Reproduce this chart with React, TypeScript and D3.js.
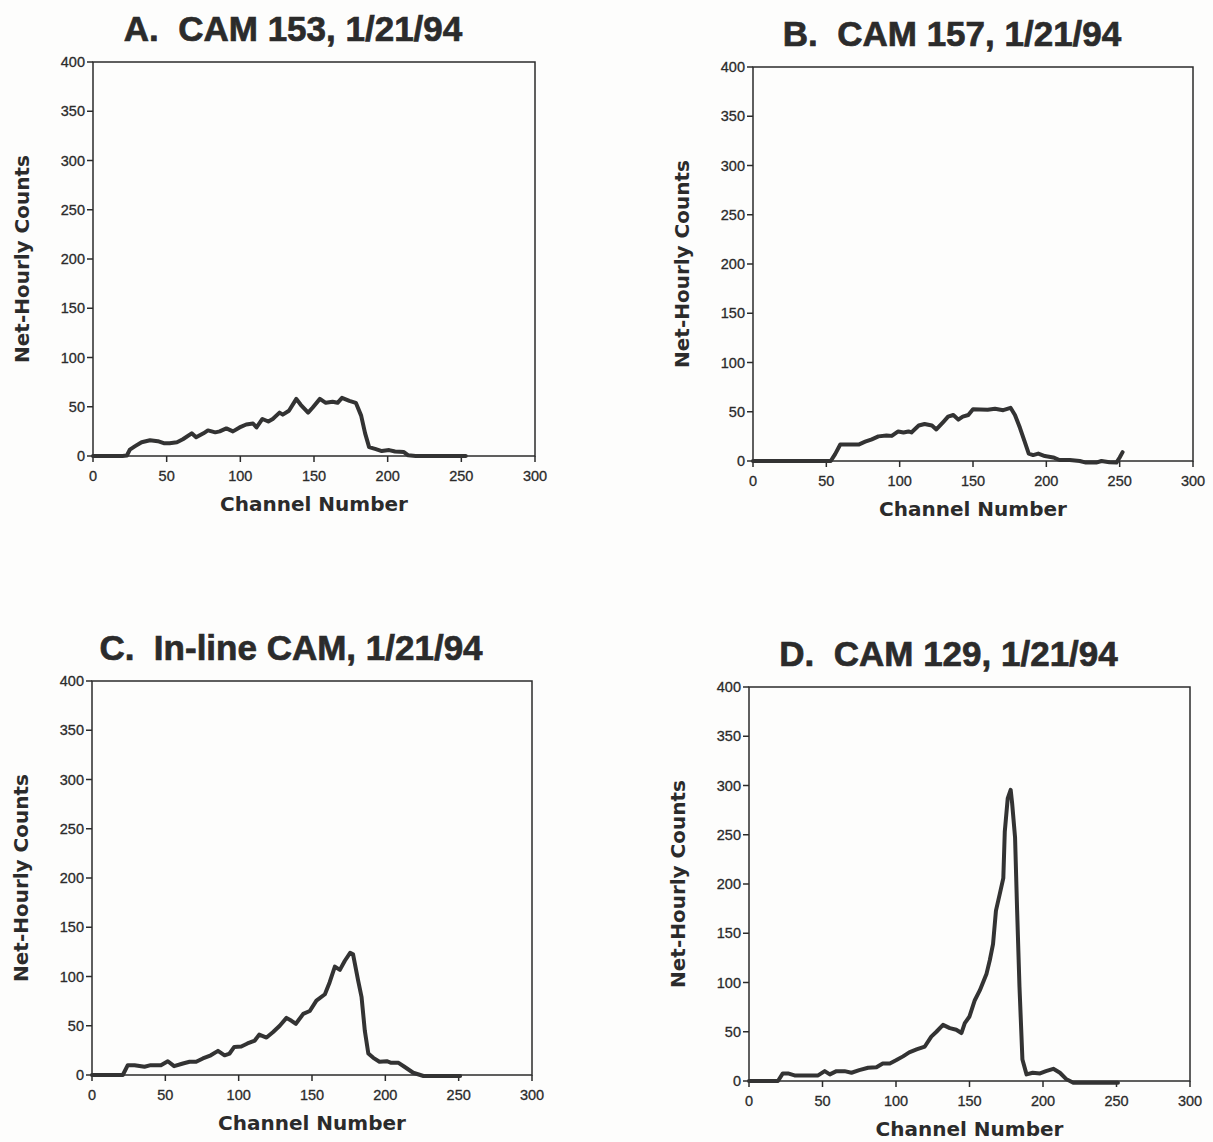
import React from 'react';
import * as d3 from 'd3';

// ---------- data ----------
const xTickValues = [0, 50, 100, 150, 200, 250, 300];
const yTickValues = [0, 50, 100, 150, 200, 250, 300, 350, 400];

const titleA = 'A.  CAM 153, 1/21/94';
const titleB = 'B.  CAM 157, 1/21/94';
const titleC = 'C.  In-line CAM, 1/21/94';
const titleD = 'D.  CAM 129, 1/21/94';

const xLabel = 'Channel Number';
const yLabel = 'Net-Hourly Counts';

const channelsA = [0, 10, 20, 23, 25, 28.6, 33, 38.7, 44, 48, 52, 57, 61, 67, 70, 75, 78, 83, 86, 90.5, 95, 99.5, 104, 108.6, 111, 115, 119, 122, 126.6, 128.8, 133, 138, 141, 146, 149, 154, 158, 162.6, 166, 169, 174, 178.4, 182, 184.7, 187.4, 192, 196, 201, 205, 211, 214, 219, 230, 240, 253];
const valuesA = [0, 0, 0, 0.5, 6.5, 10, 14, 16, 15, 13, 13, 14, 17, 23, 19, 23, 26, 24, 25, 28, 25, 29, 32, 33, 29, 37.6, 35, 37.6, 44, 42, 46, 58, 52, 44, 49, 58, 54, 55, 54, 59, 56, 54, 41, 23, 9, 7, 5, 6, 4.6, 4, 0.7, 0, 0, 0, 0];

const channelsB = [0, 20, 40, 53, 56, 59.5, 64, 72, 76.5, 81, 85.5, 91, 94.6, 99, 102.6, 106, 108, 113, 117, 122, 125, 130, 133, 136.6, 140, 143, 146.8, 150, 154.8, 160, 165, 170.6, 175.6, 178.6, 182, 185, 188, 191, 194.5, 199, 204.7, 209, 216, 222.8, 227, 234, 237.6, 243, 247.8, 250, 252];
const valuesB = [0, 0, 0, 0, 7, 16.7, 16.7, 16.7, 19.6, 22, 25, 26, 25.5, 30, 29, 30, 29, 36, 37.6, 36, 32, 40, 45, 46.7, 42, 45, 46.7, 52.6, 52.3, 52, 53, 51.6, 54, 46.7, 33.7, 20.6, 7.5, 6, 7.5, 5, 3.6, 1, 1, 0, -1.6, -1.6, 0, -1.3, -1.6, 3.6, 9];

const channelsC = [0, 10, 21, 24.4, 29, 35.8, 40, 47, 51.7, 56, 62, 66.5, 71, 75.6, 81, 85.9, 90.4, 93.8, 97, 101.8, 106, 111, 114, 119, 123.5, 128, 132.6, 136, 139, 144, 148.5, 153, 158.8, 162, 165.6, 169, 172.4, 176, 178, 181.5, 183.8, 186, 188.4, 191.8, 196, 201, 204, 209, 213, 219, 226, 240, 251];
const valuesC = [0, 0, 0, 10, 10, 8.4, 10, 10, 14, 9, 11.7, 13.4, 13.4, 16.8, 20, 24.5, 20, 21.8, 28.5, 29, 32, 35, 41, 38, 43.6, 50, 58, 55, 52, 62, 65, 75.5, 82, 94, 110, 106.7, 116, 124, 122.5, 95.6, 79, 45, 21.8, 17.4, 13.4, 14, 12.4, 12.4, 8.4, 2.3, -1, -1, -1];

const channelsD = [0, 10, 19.7, 23, 26.5, 31, 39, 47, 51.5, 55, 59.5, 65, 69.7, 75, 81, 86.7, 91, 95.8, 100, 104.8, 109, 114, 119.6, 124, 127.5, 132, 136.6, 141, 144.5, 146.8, 150, 153.6, 157, 161.6, 163.8, 166, 168, 170.6, 173, 174, 176, 178, 179, 181, 182.4, 184, 186, 188.8, 193, 198, 202, 207, 211.5, 216, 220.6, 235, 251];
const valuesD = [0, 0, 0, 7.7, 7.7, 5.7, 5.7, 5.7, 10, 6.7, 10, 10, 8.4, 11, 13.4, 14, 17.8, 17.8, 21, 25, 29, 32, 35, 45, 50, 57, 53.7, 52, 48.7, 58.8, 65.5, 82, 92, 109, 122.6, 139, 173, 190, 206, 253, 287, 295.6, 282, 247, 173, 95.7, 21.8, 6.7, 8.4, 7.7, 10, 12.4, 8.4, 1.7, -1.7, -1.7, -1.7];

// ---------- layout ----------
const layout = [
  { left: 93, right: 535, top: 62, bottom: 456 },
  { left: 753, right: 1193, top: 67, bottom: 461 },
  { left: 92, right: 532, top: 681, bottom: 1075 },
  { left: 749, right: 1190, top: 687, bottom: 1081 },
];

const panelData = [
  { title: titleA, ch: channelsA, val: valuesA },
  { title: titleB, ch: channelsB, val: valuesB },
  { title: titleC, ch: channelsC, val: valuesC },
  { title: titleD, ch: channelsD, val: valuesD },
];

const ink = '#2b2b2b';

function Panel({ box, data }: any) {
  const x = d3.scaleLinear().domain([0, 300]).range([box.left, box.right]);
  const y = d3.scaleLinear().domain([0, 400]).range([box.bottom, box.top]);
  const pts: [number, number][] = data.ch.map((c: number, i: number) => [c, data.val[i]]);
  const line = d3.line<[number, number]>().x(d => x(d[0])).y(d => y(d[1]));
  const cx = (box.left + box.right) / 2;
  const cy = (box.top + box.bottom) / 2;
  return (
    <g>
      <text x={cx - 21} y={box.top - 21} textAnchor="middle" fontFamily="'Liberation Sans', Arial, sans-serif" fontWeight="bold" fontSize={35} fill={ink} stroke={ink} strokeWidth={0.7} style={{ whiteSpace: 'pre' }}>{data.title}</text>
      <rect x={box.left} y={box.top} width={box.right - box.left} height={box.bottom - box.top} fill="none" stroke={ink} strokeWidth={1.5} />
      {xTickValues.map(t => (
        <g key={'x' + t}>
          <line x1={x(t)} x2={x(t)} y1={box.bottom} y2={box.bottom + 6} stroke={ink} strokeWidth={1.5} />
          <text x={x(t)} y={box.bottom + 25} textAnchor="middle" fontFamily="'Liberation Sans', Arial, sans-serif" fontSize={14.5} fill={ink} stroke={ink} strokeWidth={0.3}>{t}</text>
        </g>
      ))}
      {yTickValues.map(t => (
        <g key={'y' + t}>
          <line x1={box.left - 6} x2={box.left} y1={y(t)} y2={y(t)} stroke={ink} strokeWidth={1.5} />
          <text x={box.left - 8} y={y(t)} dy="0.35em" textAnchor="end" fontFamily="'Liberation Sans', Arial, sans-serif" fontSize={14.5} fill={ink} stroke={ink} strokeWidth={0.3}>{t}</text>
        </g>
      ))}
      <text x={cx} y={box.bottom + 55} textAnchor="middle" fontFamily="'DejaVu Sans', sans-serif" fontWeight="bold" fontSize={20} fill={ink}>{xLabel}</text>
      <text transform={`translate(${box.left - 64},${cy}) rotate(-90)`} textAnchor="middle" fontFamily="'DejaVu Sans', sans-serif" fontWeight="bold" fontSize={20} fill={ink}>{yLabel}</text>
      <path d={line(pts) || ''} fill="none" stroke="#333" strokeWidth={4} strokeLinejoin="round" strokeLinecap="round" />
    </g>
  );
}

export default function App() {
  return (
    <svg width={1213} height={1142} style={{ position: 'absolute', left: 0, top: 0, background: '#fdfdfc' }}>
      {panelData.map((d, i) => (
        <Panel key={i} box={layout[i]} data={d} />
      ))}
    </svg>
  );
}
